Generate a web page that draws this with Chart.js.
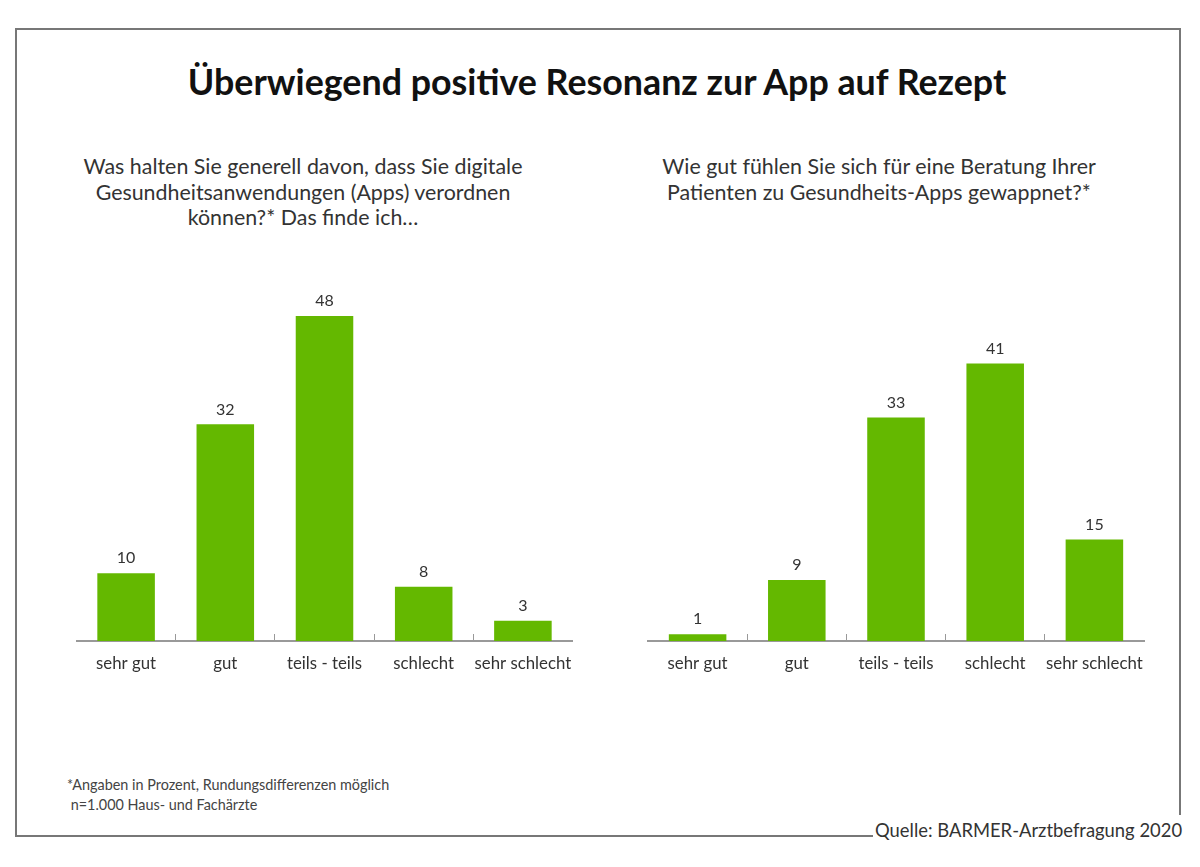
<!DOCTYPE html>
<html lang="de">
<head>
<meta charset="utf-8">
<title>Überwiegend positive Resonanz zur App auf Rezept</title>
<script src="https://cdn.jsdelivr.net/npm/chart.js@4"></script>
<style>
  html, body { margin: 0; padding: 0; background: #fff; }
  body { width: 1200px; height: 867px; position: relative; overflow: hidden; font-family: Lato, "Open Sans", sans-serif; color: #2b2b2b; }
  #frame { position: absolute; left: 15px; top: 28px; width: 1162px; height: 805px; border: 2px solid #777; }
  #title { position: absolute; left: 0; width: 1194px; top: 60px; text-align: center; font-size: 35.8px; line-height: 44px; font-weight: 700; color: #111; }
  .question { position: absolute; text-align: center; font-size: 21.4px; line-height: 25.5px; color: #333; white-space: nowrap; }
  #q1 { left: 3px; width: 600px; top: 154px; }
  #q2 { left: 579px; width: 600px; top: 154px; }
  canvas { position: absolute; top: 270px; }
  #chartLeft { left: 40px; }
  #chartRight { left: 612px; }
  #note { position: absolute; left: 67px; top: 775px; font-size: 14.4px; line-height: 20px; color: #444; white-space: pre; }
  #source { position: absolute; left: 873px; top: 815px; padding: 4px 0 4px 2px; width: 320px; background: #fff; font-size: 18.4px; line-height: 22px; color: #333; white-space: nowrap; }
</style>
</head>
<body>
<div id="frame"></div>
<div id="title">Überwiegend positive Resonanz zur App auf Rezept</div>
<div class="question" id="q1">Was halten Sie generell davon, dass Sie digitale<br>Gesundheitsanwendungen (Apps) verordnen<br>können?* Das finde ich…</div>
<div class="question" id="q2">Wie gut fühlen Sie sich für eine Beratung Ihrer<br>Patienten zu Gesundheits-Apps gewappnet?*</div>
<canvas id="chartLeft" width="560" height="420"></canvas>
<canvas id="chartRight" width="560" height="420"></canvas>
<div id="note">*Angaben in Prozent, Rundungsdifferenzen möglich
 n=1.000 Haus- und Fachärzte</div>
<div id="source">Quelle: BARMER-Arztbefragung 2020</div>

<script>
var categories = ['sehr gut', 'gut', 'teils - teils', 'schlecht', 'sehr schlecht'];
var valuesLeft = [10, 32, 48, 8, 3];
var valuesRight = [1, 9, 33, 41, 15];

// Zahlen über den Balken
var barValues = {
    id: 'barValues',
    afterDatasetsDraw: function (chart) {
        var ctx = chart.ctx;
        var meta = chart.getDatasetMeta(0);
        ctx.save();
        ctx.font = '16px Lato, sans-serif';
        ctx.fillStyle = '#333';
        ctx.textAlign = 'center';
        ctx.textBaseline = 'bottom';
        meta.data.forEach(function (bar, i) {
            ctx.fillText(chart.data.datasets[0].data[i], bar.x, bar.y - 7);
        });
        ctx.restore();
    }
};

function makeChart(id, values, paddingLeft, paddingRight) {
    return new Chart(document.getElementById(id).getContext('2d'), {
        type: 'bar',
        data: {
            labels: categories,
            datasets: [{
                data: values,
                backgroundColor: '#64b800',
                borderWidth: 0,
                barPercentage: 0.58,
                categoryPercentage: 1
            }]
        },
        options: {
            responsive: false,
            animation: false,
            layout: { padding: { left: paddingLeft, right: paddingRight, top: 32.5, bottom: 0 } },
            plugins: { legend: { display: false }, tooltip: { enabled: false } },
            scales: {
                y: { display: false, min: 0, max: 50 },
                x: {
                    // feste Höhe, damit die Grundlinie bei y=641 liegt
                    afterFit: function (scale) { scale.height = 49; },
                    border: { display: true, color: '#999', width: 2 },
                    grid: {
                        drawOnChartArea: false,
                        offset: true,
                        tickLength: -7,
                        color: function (c) {
                            // erster und letzter Strich fehlen im Original
                            return (!c.tick || c.index === 0) ? 'rgba(0,0,0,0)' : '#999';
                        }
                    },
                    ticks: {
                        padding: 20,
                        maxRotation: 0,
                        autoSkip: false,
                        color: '#333',
                        font: { family: 'Lato, sans-serif', size: 16.8 }
                    }
                }
            }
        },
        plugins: [barValues]
    });
}

makeChart('chartLeft', valuesLeft, 36.5, 27.5);
makeChart('chartRight', valuesRight, 36, 28);
</script>
</body>
</html>
